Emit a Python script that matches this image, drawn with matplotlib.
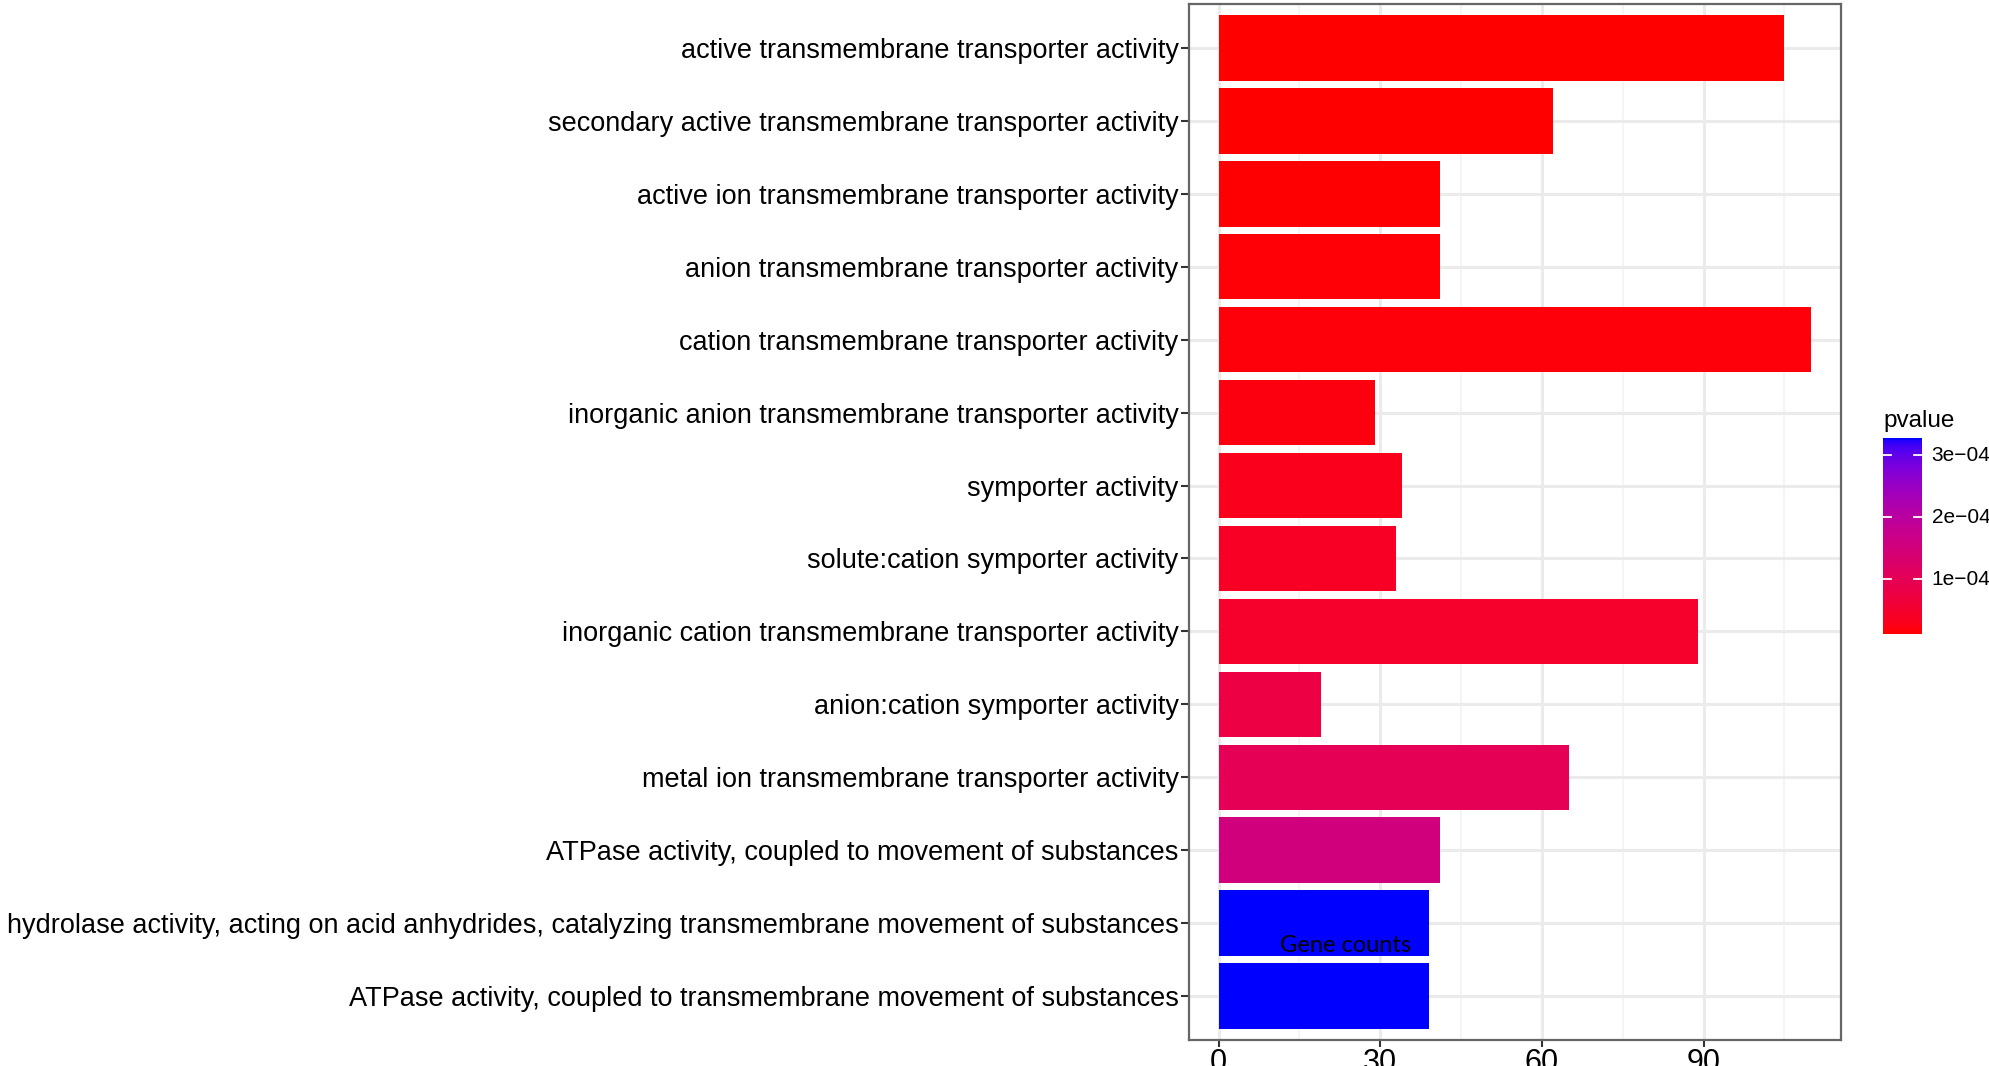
import numpy as np
import matplotlib.pyplot as plt
from matplotlib.colors import ListedColormap, Normalize

terms = [
    "active transmembrane transporter activity",
    "secondary active transmembrane transporter activity",
    "active ion transmembrane transporter activity",
    "anion transmembrane transporter activity",
    "cation transmembrane transporter activity",
    "inorganic anion transmembrane transporter activity",
    "symporter activity",
    "solute:cation symporter activity",
    "inorganic cation transmembrane transporter activity",
    "anion:cation symporter activity",
    "metal ion transmembrane transporter activity",
    "ATPase activity, coupled to movement of substances",
    "hydrolase activity, acting on acid anhydrides, catalyzing transmembrane movement of substances",
    "ATPase activity, coupled to transmembrane movement of substances",
]
counts = [105, 62, 41, 41, 110, 29, 34, 33, 89, 19, 65, 41, 39, 39]
pvalues = [1.2e-5, 1.3e-5, 1.4e-5, 1.5e-5, 1.7e-5, 2.0e-5, 3.0e-5,
           4.0e-5, 4.6e-5, 7.5e-5, 1.0e-4, 1.55e-4, 3.28e-4, 3.28e-4]
pv_ticks = [1e-4, 2e-4, 3e-4]


# red -> blue gradient interpolated in CIELAB, like scale_fill_gradient
def to_lab(rgb):
    c = np.asarray(rgb, float)
    c = np.where(c > 0.04045, ((c + 0.055) / 1.055) ** 2.4, c / 12.92)
    m = np.array([[0.4124, 0.3576, 0.1805], [0.2126, 0.7152, 0.0722], [0.0193, 0.1192, 0.9505]])
    xyz = m @ c / np.array([0.95047, 1.0, 1.08883])
    f = np.where(xyz > 0.008856, np.cbrt(xyz), 7.787 * xyz + 16 / 116)
    return np.array([116 * f[1] - 16, 500 * (f[0] - f[1]), 200 * (f[1] - f[2])])


def from_lab(lab):
    L, a, b = lab
    fy = (L + 16) / 116
    f = np.array([fy + a / 500, fy, fy - b / 200])
    xyz = np.where(f ** 3 > 0.008856, f ** 3, (f - 16 / 116) / 7.787) * np.array([0.95047, 1.0, 1.08883])
    minv = np.array([[3.2406, -1.5372, -0.4986], [-0.9689, 1.8758, 0.0415], [0.0557, -0.2040, 1.0570]])
    c = minv @ xyz
    c = np.where(c > 0.0031308, 1.055 * np.abs(c) ** (1 / 2.4) - 0.055, 12.92 * c)
    return np.clip(c, 0, 1)


lo, hi = to_lab([1, 0, 0]), to_lab([0, 0, 1])
cmap = ListedColormap([from_lab(lo + t * (hi - lo)) for t in np.linspace(0, 1, 256)])
norm = Normalize(min(pvalues), max(pvalues))

plt.rcParams['font.family'] = ['Liberation Sans', 'DejaVu Sans']
W, H = 1990, 1066
fig = plt.figure(figsize=(W / 100, H / 100), dpi=100)

ax = fig.add_axes([1189 / W, 1 - 1040 / H, 652 / W, 1036 / H])
n = len(terms)
ypos = np.arange(n)
ax.barh(ypos, counts, height=0.9, color=cmap(norm(pvalues)), zorder=2)
xmax = max(counts)
ax.set_xlim(-0.05 * xmax, 1.05 * xmax)
ax.set_ylim(n - 0.4, -0.6)
ax.set_yticks(ypos)
ax.set_yticklabels(terms)
ax.set_xticks([0, 30, 60, 90])
ax.set_xticks([15, 45, 75, 105], minor=True)
ax.grid(True, which='major', color='#EBEBEB', lw=2.2, zorder=0)
ax.grid(True, which='minor', axis='x', color='#F3F3F3', lw=1.2, zorder=0)
ax.set_axisbelow(True)
for s in ax.spines.values():
    s.set_color('#666666')
    s.set_linewidth(1.6)
ax.tick_params(axis='y', length=6, width=1.5, color='#333333', labelsize=19.5, pad=1.5)
ax.tick_params(axis='x', length=5, width=1.5, color='#333333', labelsize=22, pad=0.5)
ax.tick_params(which='minor', length=0)

fig.text(1346 / W, 1 - 945 / H, "Gene counts", ha='center', va='center',
         family=['Lato', 'DejaVu Sans'], fontsize=17)

# colour bar legend
cax = fig.add_axes([1883 / W, 1 - 634 / H, 39 / W, 196 / H])
cax.imshow(np.linspace(0, 1, 300)[:, None], aspect='auto', cmap=cmap, origin='lower',
           extent=[0, 1, norm.vmin, norm.vmax])
cax.set_xlim(0, 1)
cax.set_ylim(norm.vmin, norm.vmax)
cax.axis('off')
for v in pv_ticks:
    cax.plot([0, 0.2], [v, v], color='white', lw=1.3)
    cax.plot([0.8, 1], [v, v], color='white', lw=1.3)
    cax.text(1.25, v, f"{v:.0e}".replace('-', '\u2212'), va='center', ha='left', fontsize=15)
fig.text(1883 / W, 1 - 427 / H, "pvalue", ha='left', va='baseline', fontsize=17.5)

fig.savefig("out.png", dpi=100)
